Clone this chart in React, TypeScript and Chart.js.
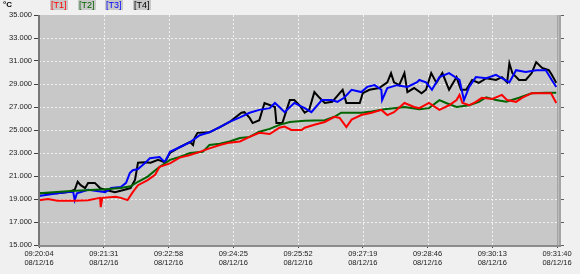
import React, { useEffect, useRef } from 'react';
import { Chart, registerables } from 'chart.js';

Chart.register(...registerables);

// ---- data (seconds since 09:20:04, °C) ----
const seriesNames = ['T1', 'T2', 'T3', 'T4'];
const seriesColors = ['#ff0000', '#006400', '#0000ff', '#000000'];
const startSeconds = 9 * 3600 + 20 * 60 + 4;
const dateLabel = '08/12/16';
const xMax = 696;
const xStep = 87;
const yMin = 15;
const yMax = 35;
const yStep = 2;

const t1Readings: [number, number][] = [
  [0, 18.9], [12, 19.0], [25, 18.85], [48, 18.85], [66, 18.9], [82, 19.1], [83, 18.3], [85, 19.1],
  [103, 19.2], [110, 19.1], [119, 18.9], [126, 19.6], [133, 20.2], [146, 20.65], [156, 21.1],
  [162, 21.8], [176, 22.1], [189, 22.6], [202, 22.8], [216, 23.1], [229, 23.4], [243, 23.7],
  [256, 23.9], [270, 24.0], [283, 24.4], [296, 24.75], [310, 24.65], [323, 25.2], [330, 25.3],
  [339, 25.0], [353, 25.0], [357, 25.2], [370, 25.45], [384, 25.7], [397, 26.15], [404, 26.05],
  [413, 25.25], [420, 25.9], [433, 26.3], [447, 26.5], [460, 26.75], [468, 26.3], [477, 26.55],
  [491, 27.35], [504, 27.0], [511, 26.9], [524, 27.35], [538, 26.75], [551, 27.15], [561, 27.6],
  [565, 28.05], [569, 27.35], [578, 27.15], [587, 27.45], [595, 27.8], [609, 27.7], [622, 28.05],
  [629, 27.6], [641, 27.45], [649, 27.8], [662, 28.2], [676, 28.2], [688, 28.2], [695, 27.35],
];

const t2Readings: [number, number][] = [
  [0, 19.5], [43, 19.7], [89, 19.85], [110, 19.95], [123, 20.1], [133, 20.5], [146, 20.95],
  [160, 21.7], [176, 22.4], [189, 22.65], [203, 23.0], [220, 23.1], [229, 23.7], [243, 23.8],
  [256, 24.0], [270, 24.3], [283, 24.4], [296, 24.85], [310, 25.1], [323, 25.45], [337, 25.7],
  [357, 25.8], [384, 25.85], [397, 26.15], [406, 26.5], [420, 26.5], [433, 26.5], [447, 26.6],
  [464, 26.8], [477, 26.9], [491, 27.0], [511, 26.8], [524, 26.9], [538, 27.6], [547, 27.35],
  [561, 27.0], [578, 27.15], [591, 27.45], [601, 27.85], [614, 27.6], [628, 27.45], [645, 27.8],
  [662, 28.2], [681, 28.25], [695, 28.25],
];

const t3Readings: [number, number][] = [
  [0, 19.25], [25, 19.5], [39, 19.6], [46, 19.6], [48, 18.9], [51, 19.5], [66, 19.8], [89, 19.6],
  [97, 19.95], [110, 20.05], [117, 20.4], [122, 21.25], [126, 21.5], [133, 21.6], [142, 22.1],
  [149, 22.55], [162, 22.65], [169, 22.2], [176, 23.1], [189, 23.5], [203, 23.95], [216, 24.55],
  [229, 24.8], [243, 25.25], [256, 25.7], [270, 26.1], [283, 26.5], [296, 26.75], [310, 26.9],
  [317, 27.35], [323, 27.0], [330, 26.55], [343, 27.35], [357, 26.9], [366, 26.55], [380, 27.6],
  [393, 27.6], [401, 27.45], [410, 27.8], [420, 28.5], [433, 28.3], [441, 28.75], [451, 28.9],
  [460, 28.5], [461, 27.6], [468, 28.65], [481, 28.9], [495, 28.75], [508, 29.15], [511, 29.35],
  [520, 29.15], [528, 28.5], [538, 29.6], [551, 29.95], [565, 29.35], [571, 27.6], [578, 28.75],
  [587, 29.6], [601, 29.5], [614, 29.8], [622, 29.5], [632, 29.15], [641, 30.2], [654, 30.05],
  [668, 30.2], [681, 30.2], [689, 29.35], [695, 28.75],
];

const t4Readings: [number, number][] = [
  [0, 19.5], [25, 19.5], [39, 19.6], [48, 19.8], [52, 20.5], [56, 20.2], [62, 19.95], [66, 20.4],
  [75, 20.4], [82, 19.95], [89, 19.8], [102, 19.6], [115, 19.8], [123, 19.95], [129, 20.65],
  [133, 22.15], [142, 22.2], [150, 22.15], [160, 22.4], [169, 22.2], [176, 23.0], [189, 23.5],
  [203, 23.95], [207, 23.7], [209, 24.3], [213, 24.75], [229, 24.8], [243, 25.25], [256, 25.7],
  [272, 26.5], [276, 26.55], [283, 26.05], [287, 25.6], [296, 25.85], [303, 27.35], [317, 27.0],
  [319, 25.6], [327, 25.6], [337, 27.6], [343, 27.6], [350, 27.15], [357, 26.5], [363, 26.75],
  [370, 28.3], [377, 27.8], [384, 27.35], [394, 27.45], [404, 28.2], [408, 28.5], [413, 27.35],
  [431, 27.35], [435, 28.2], [444, 28.5], [457, 28.65], [468, 29.15], [473, 29.95], [477, 29.15],
  [484, 28.9], [491, 29.95], [495, 28.3], [504, 28.65], [514, 28.2], [520, 28.5], [527, 29.95],
  [534, 29.1], [542, 29.95], [551, 28.5], [561, 29.6], [567, 28.5], [574, 28.5], [582, 29.35],
  [591, 29.1], [601, 29.5], [614, 29.35], [622, 29.6], [629, 29.15], [632, 30.8], [636, 29.95],
  [645, 29.35], [654, 29.35], [662, 29.95], [668, 30.9], [676, 30.4], [685, 30.2], [689, 29.8],
  [695, 29.1],
];

const allReadings = [t1Readings, t2Readings, t3Readings, t4Readings];

const pad = (n: number) => String(n).padStart(2, '0');
const timeLabel = (sec: number) => {
  const s = startSeconds + Math.round(sec);
  return `${pad(Math.floor(s / 3600))}:${pad(Math.floor((s % 3600) / 60))}:${pad(s % 60)}`;
};

const W = 580;
const H = 274;

const framePlugin = {
  id: 'frame',
  beforeDraw(chart: any) {
    const { ctx, chartArea: a } = chart;
    ctx.save();
    ctx.fillStyle = '#f0f0f0';
    ctx.fillRect(0, 0, W, H);
    ctx.fillStyle = '#c8c8c8';
    ctx.fillRect(a.left, a.top, a.right - a.left, a.bottom - a.top);
    ctx.restore();
  },
  beforeDatasetsDraw(chart: any) {
    const { ctx, chartArea: a, scales } = chart;
    ctx.save();
    ctx.strokeStyle = '#f2f2f2';
    ctx.lineWidth = 1;
    ctx.setLineDash([2, 2]);
    scales.y.ticks.forEach((t: any) => {
      const y = Math.round(scales.y.getPixelForValue(t.value)) + 0.5;
      if (t.value <= yMin || t.value >= yMax) return;
      ctx.beginPath();
      ctx.moveTo(a.left, y);
      ctx.lineTo(a.right, y);
      ctx.stroke();
    });
    scales.x.ticks.forEach((t: any) => {
      if (t.value <= 0 || t.value >= xMax) return;
      const x = Math.round(scales.x.getPixelForValue(t.value)) + 0.5;
      ctx.beginPath();
      ctx.moveTo(x, a.top);
      ctx.lineTo(x, a.bottom);
      ctx.stroke();
    });
    ctx.restore();
  },
  afterDraw(chart: any) {
    const { ctx, chartArea: a, scales } = chart;
    ctx.save();
    // right raised strip
    ctx.fillStyle = '#a4a4a4';
    ctx.fillRect(a.right, a.top, 4, a.bottom - a.top + 2);
    ctx.fillStyle = '#bcbcbc';
    ctx.fillRect(a.right + 1, a.top, 1, a.bottom - a.top);
    // left border
    ctx.fillStyle = '#787878';
    ctx.fillRect(a.left - 1, a.top, 2, a.bottom - a.top + 2);
    // bottom border
    ctx.fillStyle = '#8c8c8c';
    ctx.fillRect(a.left - 1, a.bottom, a.right - a.left + 5, 2);
    // right ticks
    ctx.strokeStyle = '#606060';
    ctx.lineWidth = 1;
    scales.y.ticks.forEach((t: any) => {
      const y = Math.round(scales.y.getPixelForValue(t.value)) + 0.5;
      ctx.beginPath();
      ctx.moveTo(a.right + 4, y);
      ctx.lineTo(a.right + 7, y);
      ctx.stroke();
    });
    ctx.restore();
  },
};

export default function App() {
  const ref = useRef<HTMLCanvasElement | null>(null);

  useEffect(() => {
    if (!ref.current) return;
    const chart = new Chart(ref.current, {
      type: 'line',
      data: {
        datasets: allReadings.map((r, i) => ({
          label: seriesNames[i],
          data: r.map(([x, y]) => ({ x, y })),
          borderColor: seriesColors[i],
          backgroundColor: seriesColors[i],
          borderWidth: 2,
          pointRadius: 0,
          tension: 0,
          fill: false,
        })),
      },
      options: {
        animation: false,
        responsive: false,
        devicePixelRatio: 1,
        layout: { padding: { left: 0, top: 15, right: 23, bottom: 0 } },
        plugins: { legend: { display: false }, tooltip: { enabled: false } },
        scales: {
          x: {
            type: 'linear',
            min: 0,
            max: xMax,
            afterFit: (s: any) => { s.height = 29; },
            afterBuildTicks: (s: any) => {
              const t = [];
              for (let v = 0; v <= xMax; v += xStep) t.push({ value: v });
              s.ticks = t;
            },
            ticks: {
              autoSkip: false,
              maxRotation: 0,
              padding: 1,
              color: '#202020',
              font: { family: 'Arial, "Liberation Sans", sans-serif', size: 7.5, lineHeight: 1.2 },
              callback: (v: any) => [timeLabel(Number(v)), dateLabel],
            },
            grid: { color: 'transparent', tickColor: '#404040', tickLength: 3, drawOnChartArea: false },
            border: { display: false },
          },
          y: {
            type: 'linear',
            min: yMin,
            max: yMax,
            afterFit: (s: any) => { s.width = 39; },
            ticks: {
              stepSize: yStep,
              padding: 2,
              color: '#202020',
              font: { family: 'Arial, "Liberation Sans", sans-serif', size: 7.5 },
              callback: (v: any) => Number(v).toFixed(3),
            },
            grid: { color: 'transparent', tickColor: '#404040', tickLength: 5, drawOnChartArea: false },
            border: { display: false },
          },
        },
      },
      plugins: [framePlugin],
    });
    return () => chart.destroy();
  }, []);

  const legendFont = 'Arial, "Liberation Sans", sans-serif';
  const legendLefts = [50, 78, 105, 133];

  return (
    <div style={{ position: 'fixed', left: 0, top: 0, width: W, height: H, background: '#f0f0f0', overflow: 'hidden' }}>
      <canvas ref={ref} width={W} height={H} style={{ width: W, height: H, display: 'block' }} />
      <span style={{ position: 'absolute', left: 3, top: 0, fontFamily: legendFont, fontSize: 8, fontWeight: 'bold', color: '#000', lineHeight: '10px' }}>°C</span>
      {seriesNames.map((n, i) => (
        <span
          key={n}
          style={{
            position: 'absolute',
            left: legendLefts[i],
            top: 0,
            padding: '0 1px',
            background: '#c8c8c8',
            fontFamily: legendFont,
            fontSize: 9,
            lineHeight: '10px',
            color: seriesColors[i],
          }}
        >
          [{n}]
        </span>
      ))}
    </div>
  );
}
